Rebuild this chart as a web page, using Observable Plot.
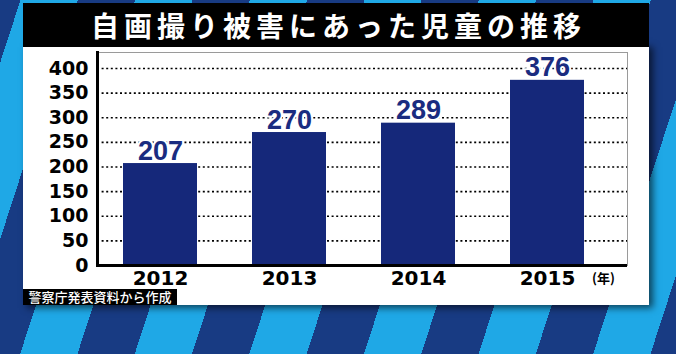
<!DOCTYPE html>
<html>
<head>
<meta charset="utf-8">
<script src="https://cdn.jsdelivr.net/npm/d3@7"></script>
<script src="https://cdn.jsdelivr.net/npm/@observablehq/plot@0.6"></script>
<style>
  html, body { margin: 0; padding: 0; }
  #stage {
    position: relative; width: 676px; height: 354px; overflow: hidden;
    background: repeating-linear-gradient(108deg, #183b83 0px, #183b83 19.5px, #1fa8e6 19.5px, #1fa8e6 74px, #183b83 74px, #183b83 109px);
  }
  #panel {
    position: absolute; left: 23px; top: 44px; width: 626px; height: 261px;
    background: #fff; box-shadow: 4px 3px 7px rgba(0,0,0,0.6);
  }
  #title {
    position: absolute; left: 23px; top: 3px; width: 626px; height: 44px;
    background: #000; color: #fff; text-align: center; line-height: 44px;
    font-family: "Noto Sans CJK JP", sans-serif; font-weight: 700; font-size: 28px;
    letter-spacing: 5px; text-indent: 5px;
  }
  #chart { position: absolute; left: 0; top: 0; }
  #unit {
    position: absolute; left: 592px; top: 268px;
    font-family: "Noto Sans CJK JP", sans-serif; font-weight: 700; font-size: 13px; color: #000;
  }
  #caption {
    position: absolute; left: 23px; top: 289px; width: 154px; height: 16px;
    background: #000; color: #fff; line-height: 16px; text-align: center;
    font-family: "Noto Sans CJK JP", sans-serif; font-weight: 500; font-size: 13px;
  }
</style>
</head>
<body>
<div id="stage">
  <div id="panel"></div>
  <div id="title">自画撮り被害にあった児童の推移</div>
  <div id="chart"></div>
  <div id="unit">(年)</div>
  <div id="caption">警察庁発表資料から作成</div>
</div>
<script>
const years = ["2012", "2013", "2014", "2015"];
const counts = [207, 270, 289, 376];
const yTicks = [0, 50, 100, 150, 200, 250, 300, 350, 400];

const data = years.map((year, i) => ({year, count: counts[i]}));
const navy = "#15287a";

const plot = Plot.plot({
  width: 676,
  height: 354,
  marginLeft: 97,
  marginRight: 49,
  marginTop: 52,
  marginBottom: 89,
  style: {background: "transparent", overflow: "visible"},
  x: {domain: years, range: [97, 610], paddingInner: 0.43, paddingOuter: 0.2},
  y: {domain: [0, 432.5]},
  marks: [
    Plot.frame({stroke: "#9a9a9a", strokeWidth: 1}),
    Plot.gridY(yTicks.filter(d => d > 0), {stroke: "#000", strokeOpacity: 1, strokeWidth: 1.7, strokeDasharray: "2,2.6"}),
    Plot.barY(data, {x: "year", y: "count", fill: navy}),
    Plot.ruleY([0], {stroke: "#000", strokeWidth: 3}),
    Plot.frame({anchor: "left", stroke: "#000", strokeWidth: 3}),
    Plot.axisY(yTicks, {tickSize: 0, tickPadding: 9, fontSize: 19, fontWeight: "bold", fontFamily: "DejaVu Sans", fill: "#000", label: null}),
    Plot.axisX({tickSize: 0, tickPadding: 5, fontSize: 20, fontWeight: "bold", fontFamily: "DejaVu Sans", fill: "#000", label: null}),
    Plot.text(data, {x: "year", y: "count", text: d => String(d.count), lineAnchor: "bottom", dy: -4,
      fontSize: 27, fontWeight: "bold", fontFamily: "Liberation Sans", fill: "#1a2c80",
      stroke: "#fff", strokeWidth: 4, paintOrder: "stroke"})
  ]
});
document.getElementById("chart").appendChild(plot);
</script>
</body>
</html>
